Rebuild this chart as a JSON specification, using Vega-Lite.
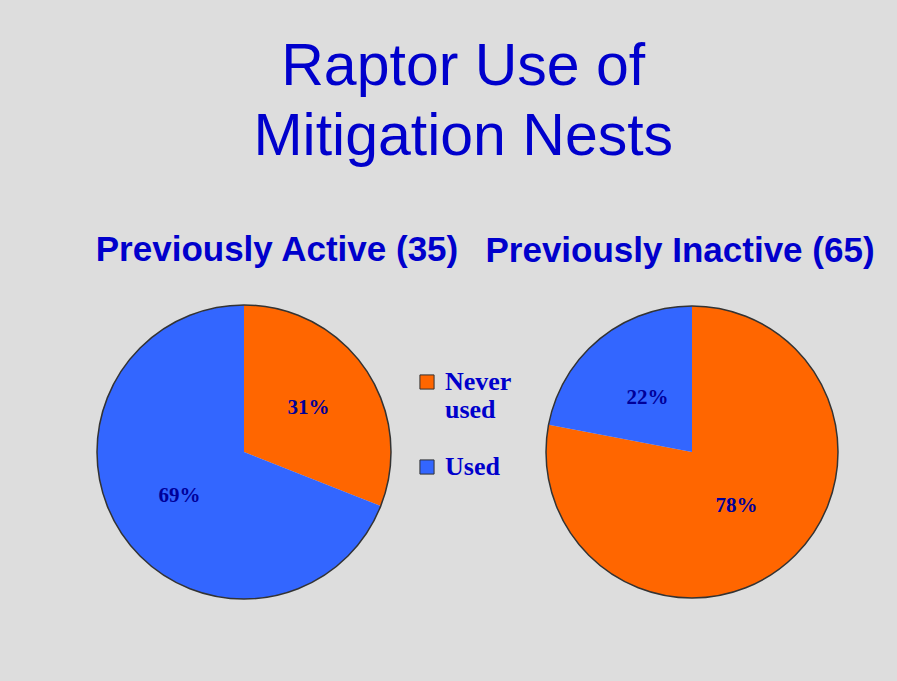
{
  "$schema": "https://vega.github.io/schema/vega-lite/v6.json",
  "background": "#DDDDDD",
  "padding": {"left": 94, "top": 38, "right": 22, "bottom": 82},
  "bounds": "flush",
  "title": {
    "text": ["Raptor Use of", "Mitigation Nests"],
    "font": "Liberation Sans",
    "fontSize": 59,
    "fontWeight": "normal",
    "color": "#0000CC",
    "lineHeight": 70,
    "anchor": "middle",
    "dx": -21,
    "offset": 66
  },
  "config": {
    "view": {"stroke": null},
    "title": {"font": "Liberation Sans", "fontSize": 35, "fontWeight": "bold", "color": "#0000CC", "offset": 34}
  },
  "datasets": {
    "nests": [
      {"group": "Previously Active (35)", "status": "Never used", "share": 0.31, "order": 1},
      {"group": "Previously Active (35)", "status": "Used", "share": 0.69, "order": 2},
      {"group": "Previously Inactive (65)", "status": "Never used", "share": 0.78, "order": 1},
      {"group": "Previously Inactive (65)", "status": "Used", "share": 0.22, "order": 2}
    ]
  },
  "spacing": 154,
  "resolve": {"legend": {"color": "independent"}},
  "hconcat": [
    {
      "title": {"text": "Previously Active (35)", "dx": 33},
      "width": 294,
      "height": 294,
      "data": {"name": "nests"},
      "transform": [{"filter": "datum.group === 'Previously Active (35)'"}],
      "layer": [
        {
          "mark": {"type": "arc", "outerRadius": 147},
          "encoding": {
            "theta": {"field": "share", "type": "quantitative", "stack": true},
            "order": {"field": "order"},
            "color": {
              "field": "status",
              "type": "nominal",
              "scale": {"domain": ["Never used", "Used"], "range": ["#FF6600", "#3366FF"]},
              "legend": {
                "orient": "none",
                "legendX": 317,
                "legendY": 64,
                "title": null,
                "symbolType": "square",
                "symbolSize": 200,
                "symbolStrokeColor": "#333333",
                "symbolStrokeWidth": 1,
                "labelFont": "Liberation Serif",
                "labelFontWeight": "bold",
                "labelFontSize": 26,
                "labelColor": "#0000CC",
                "labelLimit": 0,
                "labelOffset": 5,
                "rowPadding": 31,
                "labelExpr": "datum.label === 'Never used' ? ['Never', 'used'] : datum.label"
              }
            }
          }
        },
        {
          "transform": [{"aggregate": [{"op": "sum", "field": "share", "as": "total"}]}],
          "mark": {"type": "arc", "outerRadius": 147, "fill": "transparent", "stroke": "#333333", "strokeWidth": 1.5},
          "encoding": {"theta": {"field": "total", "type": "quantitative"}}
        },
        {
          "mark": {"type": "text", "radius": 78, "font": "Liberation Serif", "fontWeight": "bold", "fontSize": 21, "color": "#000099"},
          "encoding": {
            "theta": {"field": "share", "type": "quantitative", "stack": true},
            "order": {"field": "order"},
            "detail": {"field": "status"},
            "text": {"field": "share", "type": "quantitative", "format": ".0%"}
          }
        }
      ]
    },
    {
      "title": {"text": "Previously Inactive (65)", "dx": -12},
      "width": 294,
      "height": 294,
      "data": {"name": "nests"},
      "transform": [{"filter": "datum.group === 'Previously Inactive (65)'"}],
      "layer": [
        {
          "mark": {"type": "arc", "outerRadius": 146},
          "encoding": {
            "theta": {"field": "share", "type": "quantitative", "stack": true},
            "order": {"field": "order"},
            "color": {
              "field": "status",
              "type": "nominal",
              "scale": {"domain": ["Never used", "Used"], "range": ["#FF6600", "#3366FF"]},
              "legend": null
            }
          }
        },
        {
          "transform": [{"aggregate": [{"op": "sum", "field": "share", "as": "total"}]}],
          "mark": {"type": "arc", "outerRadius": 146, "fill": "transparent", "stroke": "#333333", "strokeWidth": 1.5},
          "encoding": {"theta": {"field": "total", "type": "quantitative"}}
        },
        {
          "mark": {"type": "text", "radius": 70, "font": "Liberation Serif", "fontWeight": "bold", "fontSize": 21, "color": "#000099"},
          "encoding": {
            "theta": {"field": "share", "type": "quantitative", "stack": true},
            "order": {"field": "order"},
            "detail": {"field": "status"},
            "text": {"field": "share", "type": "quantitative", "format": ".0%"}
          }
        }
      ]
    }
  ]
}
